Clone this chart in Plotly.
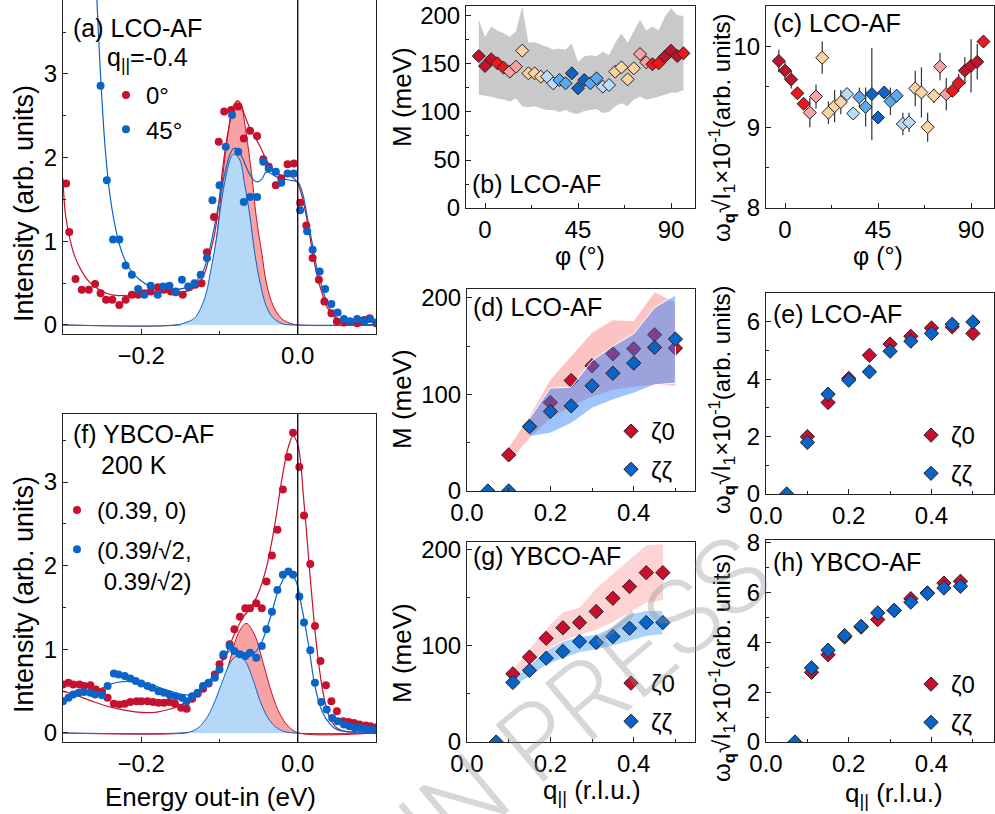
import plotly.graph_objects as go

W, H = 995, 814
RED = "#c8102e"
BLUE = "#0a64c8"

# ---------------- (a) LCO-AF, q||=-0.4 ----------------
a_E0 = [-0.296, -0.292, -0.284, -0.276, -0.267, -0.259, -0.252, -0.245, -0.237, -0.228, -0.220, -0.212, -0.204,
        -0.196, -0.188, -0.179, -0.171, -0.162, -0.156, -0.147, -0.139, -0.131, -0.123, -0.116, -0.107, -0.101,
        -0.094, -0.085, -0.076, -0.069, -0.061, -0.052, -0.044, -0.037, -0.028, -0.021, -0.013, -0.005, 0.003,
        0.011, 0.019, 0.027, 0.034, 0.043, 0.050, 0.059, 0.067, 0.076, 0.085, 0.092, 0.100]
a_I0 = [1.69, 1.11, 0.55, 0.42, 0.42, 0.49, 0.38, 0.30, 0.30, 0.24, 0.30, 0.36, 0.36, 0.38, 0.40, 0.45, 0.42,
        0.40, 0.39, 0.36, 0.45, 0.48, 0.50, 0.87, 1.29, 2.19, 2.55, 2.57, 2.61, 2.23, 2.32, 2.26, 1.98, 1.89,
        1.67, 1.75, 1.92, 1.93, 1.46, 1.19, 0.80, 0.54, 0.28, 0.14, 0.04, 0.03, 0.04, 0.02, 0.06, 0.08, 0.02]
a_E45 = [-0.252, -0.244, -0.236, -0.228, -0.220, -0.212, -0.204, -0.196, -0.188, -0.179, -0.172, -0.164, -0.156,
         -0.148, -0.140, -0.132, -0.124, -0.116, -0.109, -0.100, -0.092, -0.084, -0.076, -0.069, -0.061, -0.052,
         -0.044, -0.037, -0.028, -0.021, -0.013, -0.005, 0.003, 0.012, 0.019, 0.028, 0.035, 0.043, 0.051, 0.059,
         0.067, 0.076, 0.085, 0.092, 0.100]
a_I45 = [2.86, 1.73, 1.02, 1.02, 0.71, 0.60, 0.43, 0.36, 0.47, 0.36, 0.46, 0.47, 0.40, 0.54, 0.46, 0.50, 0.60,
         0.80, 1.49, 1.67, 2.13, 2.51, 2.07, 1.47, 1.53, 1.53, 1.95, 1.87, 1.83, 1.70, 1.81, 1.81, 1.37, 1.12,
         0.90, 0.64, 0.43, 0.25, 0.15, 0.07, 0.04, 0.07, 0.04, 0.07, 0.03]
a_fitE0 = [-0.300, -0.297, -0.291, -0.285, -0.276, -0.267, -0.255, -0.242, -0.229, -0.212, -0.190, -0.169, -0.152,
           -0.139, -0.128, -0.119, -0.113, -0.106, -0.100, -0.094, -0.087, -0.081, -0.077, -0.073, -0.068, -0.061,
           -0.055, -0.048, -0.040, -0.031, -0.021, -0.010, -0.001, 0.005, 0.012, 0.018, 0.024, 0.031, 0.037,
           0.046, 0.055, 0.067, 0.100]
a_fitI0 = [1.75, 1.33, 1.02, 0.82, 0.64, 0.52, 0.43, 0.37, 0.35, 0.36, 0.39, 0.40, 0.39, 0.41, 0.48, 0.62, 0.82,
           1.10, 1.53, 2.01, 2.41, 2.63, 2.68, 2.65, 2.51, 2.35, 2.25, 2.13, 1.97, 1.85, 1.79, 1.78, 1.71, 1.55,
           1.25, 0.92, 0.62, 0.38, 0.22, 0.10, 0.04, 0.01, 0.0]
a_fitE45 = [-0.257, -0.2515, -0.246, -0.240, -0.232, -0.224, -0.214, -0.202, -0.190, -0.175, -0.160, -0.145,
            -0.132, -0.122, -0.114, -0.107, -0.100, -0.093, -0.087, -0.082, -0.077, -0.070, -0.063, -0.057, -0.052,
            -0.046, -0.040, -0.027, -0.010, 0.000, 0.006, 0.012, 0.018, 0.024, 0.031, 0.038, 0.046, 0.055, 0.067,
            0.100]
a_fitI45 = [3.95, 2.90, 2.10, 1.55, 1.12, 0.85, 0.66, 0.54, 0.47, 0.43, 0.42, 0.44, 0.50, 0.62, 0.85, 1.15, 1.50,
            1.82, 2.03, 2.11, 2.10, 1.98, 1.83, 1.74, 1.71, 1.74, 1.83, 1.77, 1.73, 1.71, 1.58, 1.30, 1.00, 0.70,
            0.45, 0.25, 0.12, 0.05, 0.01, 0.0]
a_gE0 = [-0.300, -0.152, -0.134, -0.124, -0.115, -0.109, -0.102, -0.096, -0.089, -0.083, -0.077, -0.072, -0.066,
         -0.059, -0.053, -0.046, -0.040, -0.031, -0.021, -0.010, 0.001, 0.100]
a_gI0 = [0.0, 0.0, 0.04, 0.16, 0.38, 0.70, 1.18, 1.77, 2.29, 2.61, 2.68, 2.61, 2.29, 1.81, 1.29, 0.86, 0.50, 0.22,
         0.08, 0.02, 0.0, 0.0]
a_gE45 = [-0.300, -0.156, -0.143, -0.132, -0.124, -0.117, -0.111, -0.104, -0.098, -0.091, -0.085, -0.081, -0.074,
          -0.068, -0.061, -0.055, -0.048, -0.040, -0.031, -0.018, -0.006, 0.100]
a_gI45 = [0.0, 0.0, 0.03, 0.08, 0.20, 0.38, 0.66, 1.02, 1.45, 1.81, 2.01, 2.04, 1.97, 1.69, 1.29, 0.86, 0.50, 0.22,
          0.08, 0.01, 0.0, 0.0]

# ---------------- (f) YBCO-AF, 200 K ----------------
f_Ex = [-0.300, -0.293, -0.287, -0.279, -0.273, -0.265, -0.258, -0.250, -0.243, -0.235, -0.228, -0.221, -0.214,
        -0.206, -0.200, -0.192, -0.185, -0.178, -0.171, -0.164, -0.157, -0.149, -0.142, -0.135, -0.128, -0.121,
        -0.114, -0.106, -0.100, -0.095, -0.087, -0.081, -0.074, -0.067, -0.061, -0.053, -0.046, -0.040, -0.033,
        -0.026, -0.019, -0.012, -0.006, 0.002, 0.008, 0.016, 0.022, 0.029, 0.036, 0.043, 0.050, 0.058, 0.065,
        0.072, 0.079, 0.087, 0.093, 0.101]
f_Ix = [0.58, 0.60, 0.58, 0.58, 0.56, 0.57, 0.52, 0.49, 0.42, 0.35, 0.34, 0.35, 0.37, 0.38, 0.38, 0.38, 0.37,
        0.36, 0.36, 0.37, 0.35, 0.30, 0.29, 0.41, 0.47, 0.53, 0.59, 0.70, 0.82, 0.92, 1.06, 1.24, 1.39, 1.49,
        1.49, 1.55, 1.49, 1.81, 2.12, 2.43, 2.91, 3.30, 3.59, 3.18, 2.60, 2.02, 1.28, 0.86, 0.57, 0.38, 0.26,
        0.14, 0.13, 0.12, 0.10, 0.09, 0.08, 0.07]
f_Ed = [-0.300, -0.293, -0.287, -0.280, -0.273, -0.265, -0.259, -0.250, -0.243, -0.235, -0.229, -0.221, -0.214,
        -0.207, -0.200, -0.192, -0.186, -0.178, -0.171, -0.164, -0.156, -0.148, -0.142, -0.135, -0.128, -0.121,
        -0.114, -0.106, -0.100, -0.095, -0.087, -0.081, -0.074, -0.067, -0.061, -0.053, -0.046, -0.040, -0.033,
        -0.026, -0.019, -0.012, -0.006, 0.002, 0.008, 0.016, 0.022, 0.030, 0.037, 0.044, 0.051, 0.059, 0.066,
        0.073, 0.080, 0.087, 0.094, 0.101]
f_Id = [0.38, 0.42, 0.46, 0.48, 0.49, 0.48, 0.46, 0.45, 0.56, 0.71, 0.70, 0.68, 0.65, 0.62, 0.59, 0.56, 0.54,
        0.50, 0.48, 0.46, 0.44, 0.42, 0.38, 0.44, 0.48, 0.56, 0.60, 0.66, 0.76, 0.94, 1.04, 0.98, 0.94, 0.92,
        0.96, 0.90, 1.04, 1.24, 1.45, 1.71, 1.89, 1.93, 1.89, 1.63, 1.32, 0.99, 0.60, 0.37, 0.28, 0.18, 0.14,
        0.10, 0.08, 0.06, 0.06, 0.05, 0.04, 0.03]
f_fitEx = [-0.300, -0.280, -0.260, -0.240, -0.220, -0.200, -0.180, -0.165, -0.150, -0.138, -0.125, -0.113, -0.100,
           -0.090, -0.080, -0.070, -0.060, -0.050, -0.040, -0.030, -0.020, -0.012, -0.006, 0.000, 0.008, 0.016,
           0.024, 0.032, 0.040, 0.050, 0.060, 0.100]
f_fitIx = [0.50, 0.44, 0.37, 0.31, 0.27, 0.245, 0.25, 0.28, 0.33, 0.40, 0.50, 0.62, 0.80, 0.98, 1.20, 1.38, 1.50,
           1.68, 1.98, 2.45, 3.05, 3.42, 3.55, 3.45, 2.75, 1.85, 1.05, 0.50, 0.20, 0.06, 0.02, 0.0]
f_fitEd = [-0.302, -0.276, -0.2545, -0.233, -0.212, -0.190, -0.169, -0.147, -0.134, -0.117, -0.100, -0.087, -0.074,
           -0.061, -0.0485, -0.036, -0.023, -0.012, -0.003, 0.005, 0.014, 0.022, 0.031, 0.040, 0.050, 0.100]
f_fitId = [0.40, 0.46, 0.52, 0.60, 0.62, 0.58, 0.52, 0.46, 0.46, 0.58, 0.80, 0.98, 0.96, 0.92, 1.04, 1.35, 1.75,
           1.91, 1.83, 1.51, 1.04, 0.56, 0.26, 0.12, 0.04, 0.01]
f_gEx = [-0.300, -0.143, -0.126, -0.113, -0.100, -0.087, -0.076, -0.066, -0.055, -0.044, -0.033, -0.023, -0.012,
         0.001, 0.100]
f_gIx = [0.0, 0.0, 0.04, 0.16, 0.44, 0.86, 1.19, 1.31, 1.17, 0.83, 0.47, 0.23, 0.08, 0.0, 0.0]
f_gEd = [-0.300, -0.150, -0.135, -0.125, -0.115, -0.105, -0.095, -0.085, -0.077, -0.068, -0.058, -0.048, -0.038,
         -0.028, -0.018, -0.005, 0.100]
f_gId = [0.0, 0.0, 0.02, 0.08, 0.20, 0.40, 0.65, 0.86, 0.92, 0.87, 0.66, 0.38, 0.18, 0.07, 0.02, 0.0, 0.0]

# ---------------- (b), (c) LCO-AF vs phi ----------------
phi = [-3, 0, 3, 6, 9, 12, 15, 18, 21, 24, 27, 30, 33, 36, 39, 42, 45, 48, 51, 54, 57, 60, 63, 66, 69, 72, 75,
       78, 81, 84, 87, 90, 93, 96]
b_M = [158.3, 147.9, 154.9, 150.7, 146.2, 142.0, 147.2, 163.9, 140.3, 140.3, 136.8, 136.8, 129.9, 133.3, 129.9,
       140.3, 124.7, 133.3, 129.9, 135.1, 126.4, 128.1, 142.0, 146.5, 134.0, 145.5, 160.4, 151.7, 149.7, 150.7,
       157.6, 163.9, 158.3, 161.1]
b_upper = [196, 178, 189, 185, 182, 178, 184, 210, 172, 173, 170, 168, 165, 166, 165, 171, 152, 158, 159, 158,
           163, 159, 172, 182, 172, 184, 196, 185, 189, 185, 199, 208, 201, 200]
b_lower = [118, 117, 116, 114, 113, 111, 114, 106, 105, 106, 104, 102, 102, 100, 102, 99, 98, 101, 102, 103, 99,
           100, 106, 109, 106, 113, 116, 113, 114, 116, 118, 120, 120, 123]
c_V = [9.82, 9.70, 9.59, 9.42, 9.29, 9.18, 9.38, 9.86, 9.18, 9.26, 9.31, 9.41, 9.17, 9.37, 9.25, 9.41, 9.12, 9.43,
       9.32, 9.39, 9.04, 9.06, 9.48, 9.43, 9.00, 9.39, 9.75, 9.41, 9.45, 9.55, 9.70, 9.76, 9.81, 10.06]
c_err = [0.14, 0.11, 0.11, 0.06, 0.07, 0.18, 0.15, 0.20, 0.14, 0.20, 0.15, 0.06, 0.07, 0.12, 0.24, 0.57, 0.06,
         0.08, 0.17, 0.08, 0.14, 0.12, 0.22, 0.31, 0.18, 0.09, 0.17, 0.20, 0.07, 0.11, 0.17, 0.33, 0.22, 0.03]
PAL = {"DR": "#c0142e", "R": "#f0141c", "P": "#f5a3a3", "PE": "#fdd3a1", "LB": "#b9dcf9", "MB": "#5aa8ef",
       "DB": "#1062c6"}
phi_cls = ["DR", "DR", "DR", "R", "R", "P", "P", "PE", "PE", "PE", "PE", "LB", "LB", "MB", "MB", "DB", "DB", "DB",
           "MB", "MB", "LB", "LB", "PE", "PE", "PE", "PE", "P", "P", "R", "R", "DR", "DR", "DR", "R"]

# ---------------- (d), (e) LCO-AF vs q ----------------
d_q0 = [0.10, 0.15, 0.20, 0.25, 0.30, 0.35, 0.40, 0.45, 0.50]
d_M0 = [37.4, 66.8, 91.7, 114.5, 129.8, 142.2, 147.4, 162.0, 148.0]
d_up0 = [45, 77, 115, 139, 164, 177, 176, 206, 195]
d_lo0 = [30, 55, 75, 88, 98, 105, 108, 110, 109]
d_qzz = [0.05, 0.10, 0.15, 0.20, 0.25, 0.30, 0.35, 0.40, 0.45, 0.50]
d_Mzz = [0, 0, 66.8, 82.4, 88.2, 109.0, 122.0, 132.5, 148.8, 157.4]
d_qbz = [0.15, 0.20, 0.25, 0.30, 0.35, 0.40, 0.45, 0.50]
d_upzz = [75, 106.6, 107.6, 135, 150, 163, 190, 203]
d_lozz = [56.4, 59.9, 70.2, 85.8, 94.5, 101.4, 110, 111.8]
e_V0 = [2.00, 3.19, 4.03, 4.84, 5.23, 5.50, 5.79, 5.83, 5.60]
e_err0 = [0.08, 0.10, 0.18, 0.10, 0.10, 0.10, 0.10, 0.08, 0.08]
e_Vzz = [0, 1.80, 3.48, 3.97, 4.26, 4.98, 5.33, 5.60, 5.92, 6.00]
e_errzz = [0, 0.08, 0.10, 0.18, 0.08, 0.10, 0.10, 0.12, 0.08, 0.06]

# ---------------- (g), (h) YBCO-AF vs q ----------------
g_q0 = [0.11, 0.15, 0.19, 0.23, 0.27, 0.31, 0.35, 0.39, 0.43, 0.47]
g_M0 = [71.0, 88.4, 108.0, 119.0, 124.4, 135.9, 149.7, 161.9, 176.4, 176.4]
g_up0 = [75, 97, 118, 135, 140, 160, 175, 190, 205, 206]
g_lo0 = [65, 78, 92, 105, 112, 117, 125, 135, 145, 148]
g_qzz = [0.07, 0.11, 0.15, 0.19, 0.23, 0.27, 0.31, 0.35, 0.39, 0.43, 0.47]
g_Mzz = [0, 62.0, 74.5, 87.3, 94.3, 104.7, 103.6, 109.9, 118.5, 124.4, 124.4]
g_upzz = [65, 80, 95, 105, 110, 112, 120, 133, 137, 137]
g_lozz = [58, 68, 80, 87, 93, 96, 100, 105, 110, 112]
h_V0 = [2.80, 3.51, 4.22, 4.62, 4.92, 5.29, 5.76, 5.99, 6.39, 6.46]
h_err0 = [0.08, 0.08, 0.10, 0.08, 0.15, 0.08, 0.15, 0.08, 0.20, 0.18]
h_Vzz = [0, 2.98, 3.69, 4.28, 4.65, 5.19, 5.29, 5.62, 5.97, 6.19, 6.26]
h_errzz = [0, 0.08, 0.08, 0.12, 0.08, 0.20, 0.08, 0.15, 0.08, 0.20, 0.18]

FONT = "Liberation Sans"
TICK = 24

fig = go.Figure()


def dom_x(l, r):
    return [l / W, r / W]


def dom_y(t, b):
    return [max(0.0, 1 - b / H), min(1.0, 1 - t / H)]


def add_axes(n, xd, yd, xr, yr, xdt, xminor, ydt, yminor, xfmt=None, x0=None, xmirror=True):
    sfx = "" if n == 1 else str(n)
    common = dict(showline=True, linecolor="#222", linewidth=1, ticks="inside", ticklen=5, tickwidth=1,
                  tickcolor="#222", showgrid=False, zeroline=False, automargin=False,
                  tickfont=dict(family=FONT, size=TICK, color="black"))
    xa = dict(common, domain=dom_x(*xd), range=xr, dtick=xdt, anchor="y" + sfx, mirror=xmirror,
              minor=dict(ticks="inside", ticklen=3, dtick=xminor, tickcolor="#222", showgrid=False))
    if x0 is not None:
        xa["tick0"] = x0
        xa["minor"]["tick0"] = x0
    if xfmt:
        xa["tickformat"] = xfmt
    ya = dict(common, domain=dom_y(*yd), range=yr, dtick=ydt, anchor="x" + sfx, mirror=True,
              minor=dict(ticks="inside", ticklen=3, dtick=yminor, tickcolor="#222", showgrid=False))
    fig.update_layout(**{"xaxis" + sfx: xa, "yaxis" + sfx: ya})


# axes: a=1, f=2, b=3, c=4, d=5, e=6, g=7, h=8
add_axes(1, (63, 376), (0, 334), [-0.3, 0.1], [-0.108, 3.884], 0.2, 0.1, 1, 0.5, ".1f", 0, xmirror=False)
add_axes(2, (63, 376), (414, 742), [-0.3, 0.1], [-0.108, 3.813], 0.2, 0.1, 1, 0.5, ".1f", 0)
add_axes(3, (466, 695), (6, 208), [-9.2, 101.6], [0, 210.4], 45, 22.5, 50, 25, None, 0)
add_axes(4, (766, 994), (6, 208), [-9.2, 101.1], [8, 10.5], 45, 22.5, 1, 0.5, None, 0)
add_axes(5, (467, 695), (289, 491), [0, 0.547], [0, 209.3], 0.2, 0.1, 100, 50, ".1f", 0)
add_axes(6, (766, 994), (293, 494), [0, 0.551], [0, 7.01], 0.2, 0.1, 2, 1, ".1f", 0)
add_axes(7, (467, 695), (542, 742), [0, 0.547], [0, 208.3], 0.2, 0.1, 100, 50, ".1f", 0)
add_axes(8, (766, 994), (540, 742), [0, 0.551], [0, 8.12], 0.2, 0.1, 2, 1, ".1f", 0)


def ax(n):
    return dict(xaxis="x" if n == 1 else "x%d" % n, yaxis="y" if n == 1 else "y%d" % n)


# ----- (a) -----
fig.add_trace(go.Scatter(x=a_gE0, y=a_gI0, mode="lines", fill="tozeroy", fillcolor="#f8a3a3",
                         line=dict(color=RED, width=1, shape="spline"), showlegend=False, **ax(1)))
fig.add_trace(go.Scatter(x=a_gE45, y=a_gI45, mode="lines", fill="tozeroy", fillcolor="#b5d8f9",
                         line=dict(color=BLUE, width=1, shape="spline"), showlegend=False, **ax(1)))
fig.add_trace(go.Scatter(x=a_fitE0, y=a_fitI0, mode="lines", line=dict(color=RED, width=1.2, shape="spline"),
                         showlegend=False, **ax(1)))
fig.add_trace(go.Scatter(x=a_fitE45, y=a_fitI45, mode="lines", line=dict(color=BLUE, width=1.2, shape="spline"),
                         showlegend=False, **ax(1)))
fig.add_trace(go.Scatter(x=a_E0, y=a_I0, mode="markers", name="0°", marker=dict(color=RED, size=8),
                         legend="legend", legendgroup="a0", **ax(1)))
fig.add_trace(go.Scatter(x=a_E45, y=a_I45, mode="markers", name="45°", marker=dict(color=BLUE, size=8),
                         legend="legend", legendgroup="a45", **ax(1)))

# ----- (f) -----
fig.add_trace(go.Scatter(x=f_gEx, y=f_gIx, mode="lines", fill="tozeroy", fillcolor="#f8a3a3",
                         line=dict(color=RED, width=1, shape="spline"), showlegend=False, **ax(2)))
fig.add_trace(go.Scatter(x=f_gEd, y=f_gId, mode="lines", fill="tozeroy", fillcolor="#b5d8f9",
                         line=dict(color=BLUE, width=1, shape="spline"), showlegend=False, **ax(2)))
fig.add_trace(go.Scatter(x=f_fitEx, y=f_fitIx, mode="lines", line=dict(color=RED, width=1.2, shape="spline"),
                         showlegend=False, **ax(2)))
fig.add_trace(go.Scatter(x=f_fitEd, y=f_fitId, mode="lines", line=dict(color=BLUE, width=1.2, shape="spline"),
                         showlegend=False, **ax(2)))
fig.add_trace(go.Scatter(x=f_Ex, y=f_Ix, mode="markers", name="(0.39, 0)", marker=dict(color=RED, size=8),
                         legend="legend2", legendgroup="f0", **ax(2)))
fig.add_trace(go.Scatter(x=f_Ed, y=f_Id, mode="markers", name="(0.39/√2,<br> 0.39/√2)",
                         marker=dict(color=BLUE, size=8), legend="legend2", legendgroup="f1", **ax(2)))

# ----- (b) -----
fig.add_trace(go.Scatter(x=phi + phi[::-1], y=b_upper + b_lower[::-1], mode="lines", fill="toself",
                         fillcolor="#c9c9c9", line=dict(width=0), showlegend=False, **ax(3)))
fig.add_trace(go.Scatter(x=phi, y=b_M, mode="markers", showlegend=False,
                         marker=dict(symbol="diamond", size=10, color=[PAL[c] for c in phi_cls],
                                     line=dict(color="#222", width=1)), **ax(3)))

# ----- (c) -----
fig.add_trace(go.Scatter(x=phi, y=c_V, mode="markers", showlegend=False,
                         error_y=dict(type="data", array=c_err, color="#333", thickness=1.2, width=0),
                         marker=dict(symbol="diamond", size=10, color=[PAL[c] for c in phi_cls],
                                     line=dict(color="#222", width=1)), **ax(4)))

# ----- (d) -----
fig.add_trace(go.Scatter(x=d_q0 + d_q0[::-1], y=d_up0 + d_lo0[::-1], mode="lines", fill="toself",
                         fillcolor="rgba(250,140,140,0.52)", line=dict(width=0), showlegend=False, **ax(5)))
fig.add_trace(go.Scatter(x=d_q0, y=d_M0, mode="markers", name="ζ0", legend="legend3", legendgroup="d0",
                         marker=dict(symbol="diamond", size=11, color=RED, line=dict(color="#222", width=1)),
                         **ax(5)))
fig.add_trace(go.Scatter(x=d_qbz + d_qbz[::-1], y=d_upzz + d_lozz[::-1], mode="lines", fill="toself",
                         fillcolor="rgba(40,125,250,0.45)", line=dict(width=1, color="white"), showlegend=False,
                         **ax(5)))
fig.add_trace(go.Scatter(x=d_qzz, y=d_Mzz, mode="markers", name="ζζ", legend="legend3", legendgroup="d1",
                         marker=dict(symbol="diamond", size=11, color=BLUE, line=dict(color="#222", width=1)),
                         **ax(5)))

# ----- (e) -----
fig.add_trace(go.Scatter(x=d_q0, y=e_V0, mode="markers", name="ζ0", legend="legend4", legendgroup="e0",
                         error_y=dict(type="data", array=e_err0, color="#333", thickness=1, width=0),
                         marker=dict(symbol="diamond", size=11, color=RED, line=dict(color="#222", width=1)),
                         **ax(6)))
fig.add_trace(go.Scatter(x=d_qzz, y=e_Vzz, mode="markers", name="ζζ", legend="legend4", legendgroup="e1",
                         error_y=dict(type="data", array=e_errzz, color="#333", thickness=1, width=0),
                         marker=dict(symbol="diamond", size=11, color=BLUE, line=dict(color="#222", width=1)),
                         **ax(6)))

# ----- (g) -----
fig.add_trace(go.Scatter(x=g_q0 + g_q0[::-1], y=g_up0 + g_lo0[::-1], mode="lines", fill="toself",
                         fillcolor="rgba(250,150,150,0.42)", line=dict(width=0), showlegend=False, **ax(7)))
fig.add_trace(go.Scatter(x=g_q0 + g_q0[::-1], y=g_upzz + g_lozz[::-1], mode="lines", fill="toself",
                         fillcolor="rgba(150,200,248,0.8)", line=dict(width=1, color="white"), showlegend=False,
                         **ax(7)))
fig.add_trace(go.Scatter(x=g_q0, y=g_M0, mode="markers", name="ζ0", legend="legend5", legendgroup="g0",
                         marker=dict(symbol="diamond", size=11, color=RED, line=dict(color="#222", width=1)),
                         **ax(7)))
fig.add_trace(go.Scatter(x=g_qzz, y=g_Mzz, mode="markers", name="ζζ", legend="legend5", legendgroup="g1",
                         marker=dict(symbol="diamond", size=11, color=BLUE, line=dict(color="#222", width=1)),
                         **ax(7)))

# ----- (h) -----
fig.add_trace(go.Scatter(x=g_q0, y=h_V0, mode="markers", name="ζ0", legend="legend6", legendgroup="h0",
                         error_y=dict(type="data", array=h_err0, color="#333", thickness=1, width=0),
                         marker=dict(symbol="diamond", size=11, color=RED, line=dict(color="#222", width=1)),
                         **ax(8)))
fig.add_trace(go.Scatter(x=g_qzz, y=h_Vzz, mode="markers", name="ζζ", legend="legend6", legendgroup="h1",
                         error_y=dict(type="data", array=h_errzz, color="#333", thickness=1, width=0),
                         marker=dict(symbol="diamond", size=11, color=BLUE, line=dict(color="#222", width=1)),
                         **ax(8)))

# vertical lines at zero energy
for n in (1, 2):
    fig.add_shape(type="line", xref="x" if n == 1 else "x2", yref=("y" if n == 1 else "y2") + " domain",
                  x0=0, x1=0, y0=0, y1=1, line=dict(color="black", width=1.3))


def leg(xp, yp, gap=0, valign="middle"):
    return dict(x=xp / W, y=1 - yp / H, xanchor="left", yanchor="top", bgcolor="rgba(0,0,0,0)",
                font=dict(family=FONT, size=24, color="black"), tracegroupgap=gap, valign=valign,
                itemwidth=30)


fig.update_layout(
    legend=leg(106, 73),
    legend2=leg(57, 488, gap=5, valign="top"),
    legend3=leg(611, 409, gap=4),
    legend4=leg(911, 413, gap=4),
    legend5=leg(611, 661, gap=4),
    legend6=leg(911, 662, gap=4),
)

ann = []


def txt(x, y, s, size=24, xanchor="left", angle=0, color="black"):
    ann.append(dict(x=x / W, y=1 - y / H, xref="paper", yref="paper", text=s, showarrow=False,
                    xanchor=xanchor, yanchor="middle", textangle=angle,
                    font=dict(family=FONT, size=size, color=color)))


# panel labels
txt(71, 28, "(a) LCO-AF", size=25)
txt(105, 59, "q<sub>||</sub>=-0.4", size=25)
txt(71, 434, "(f) YBCO-AF", size=25)
txt(99, 465, "200 K", size=25)
txt(470, 184, "(b) LCO-AF", size=25)
txt(771, 23, "(c) LCO-AF", size=25)
txt(471, 307, "(d) LCO-AF", size=25)
txt(771, 314, "(e) LCO-AF", size=25)
txt(471, 556, "(g) YBCO-AF", size=25)
txt(771, 562, "(h) YBCO-AF", size=25)

# axis titles
txt(24, 204, "Intensity (arb. units)", size=27, xanchor="center", angle=-90)
txt(24, 595, "Intensity (arb. units)", size=27, xanchor="center", angle=-90)
txt(210, 797, "Energy out-in (eV)", size=26, xanchor="center")
for yy in (97, 399, 653):
    txt(402, yy, "M (meV)", size=26, xanchor="center", angle=-90)
for yy in (128, 400, 668):
    txt(722, yy, "ω<sub><b>q</b></sub>√I<sub>1</sub>×10<sup>-1</sup>(arb. units)", size=24, xanchor="center",
        angle=-90)
txt(580, 256, "φ (°)", size=25, xanchor="center")
txt(878, 256, "φ (°)", size=25, xanchor="center")
txt(592, 791, "q<sub>||</sub> (r.l.u.)", size=26, xanchor="center")
txt(894, 794, "q<sub>||</sub> (r.l.u.)", size=26, xanchor="center")

# watermark
ann.append(dict(x=585 / W, y=1 - 700 / H, xref="paper", yref="paper", text="IN PRESS", showarrow=False,
                xanchor="center", yanchor="middle", textangle=-40,
                font=dict(family="Roboto", size=105, color="rgba(140,140,140,0.35)", weight=300)))

fig.update_layout(annotations=ann, width=W, height=H,
                  margin=dict(l=0, r=0, t=0, b=0, pad=0, autoexpand=False),
                  paper_bgcolor="white", plot_bgcolor="white", font=dict(family=FONT, color="black"))

fig.write_html("out.html")
